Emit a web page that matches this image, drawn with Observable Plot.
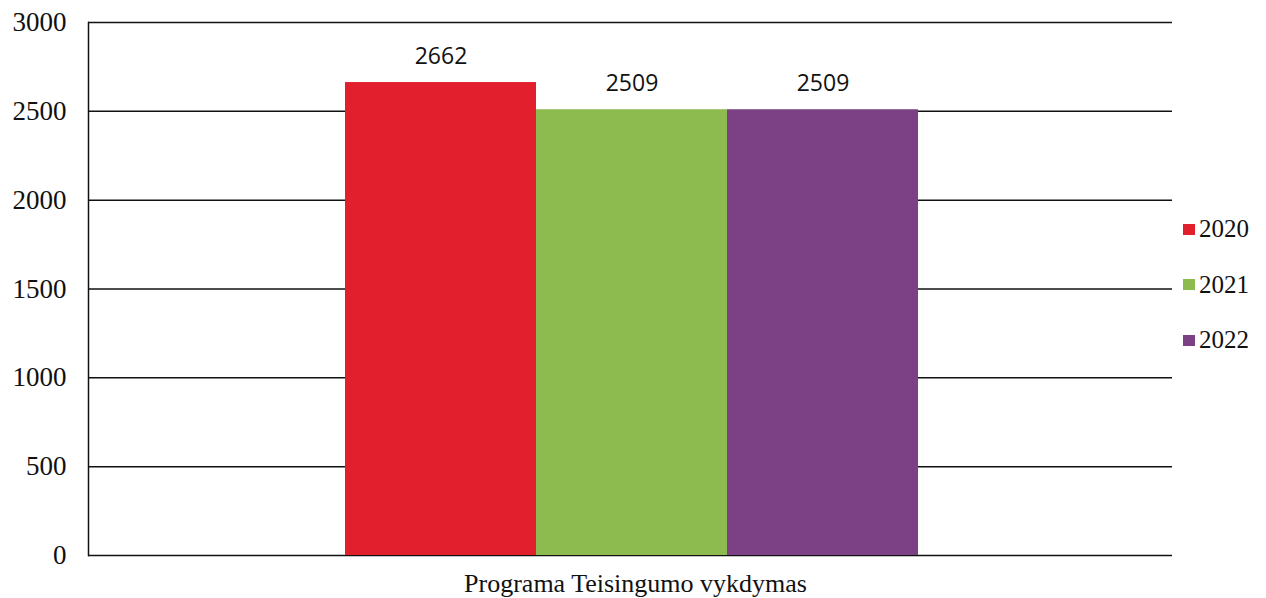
<!DOCTYPE html>
<html>
<head>
<meta charset="utf-8">
<script src="https://cdn.jsdelivr.net/npm/d3@7"></script>
<script src="https://cdn.jsdelivr.net/npm/@observablehq/plot@0.6"></script>
<style>
  html, body { margin: 0; padding: 0; background: #fff; }
  #wrap { position: relative; width: 1266px; height: 598px; }
  #legend { position: absolute; left: 1183px; top: 213px; color: #111; }
  #legend .item { display: flex; align-items: center; height: 32px; margin-bottom: 23.5px; }
  #legend .sw { width: 12px; height: 11px; margin-right: 4px; }
  #legend .lab { font-family: "Liberation Serif", "DejaVu Serif", serif; font-size: 25px; }
</style>
</head>
<body>
<div id="wrap"></div>
<script>
const category = "Programa Teisingumo vykdymas";
const years = ["2020", "2021", "2022"];
const values = [2662, 2509, 2509];
const colors = ["#e21f2c", "#8dbb50", "#7c4185"];
const yTicks = [0, 500, 1000, 1500, 2000, 2500, 3000];

const data = years.map((y, i) => ({category, year: y, value: values[i]}));

const chart = Plot.plot({
  width: 1266,
  height: 598,
  marginLeft: 88,
  marginRight: 94,
  marginTop: 22,
  marginBottom: 43,
  style: {fontFamily: "'Liberation Serif', 'Times New Roman', serif", background: "#fff", color: "#111"},
  fx: {domain: [category], padding: 0, label: null, axis: null},
  x: {domain: years, paddingInner: 0, paddingOuter: 1.33, axis: null},
  y: {domain: [0, 3000], axis: null},
  color: {domain: years, range: colors},
  marks: [
    Plot.ruleY(yTicks, {stroke: "#111", strokeWidth: 1.5}),
    Plot.frame({anchor: "left", stroke: "#111", strokeWidth: 1.5}),
    Plot.barY(data, {fx: "category", x: "year", y: "value", fill: "year", dx: 1}),
    Plot.text(data, {fx: "category", x: "year", y: "value", text: d => String(d.value), dy: -26, dx: 1, fontFamily: "'Open Sans', sans-serif", fontSize: 23, fill: "#111"}),
    Plot.axisY({ticks: yTicks, tickSize: 0, tickPadding: 22, fontSize: 27, tickFormat: d => String(d), label: null}),
    Plot.axisFx({anchor: "bottom", tickSize: 0, tickPadding: 18, fontSize: 26, label: null, dx: 5})
  ]
});

const wrap = document.getElementById("wrap");
wrap.appendChild(chart);

const legend = document.createElement("div");
legend.id = "legend";
years.forEach((y, i) => {
  const item = document.createElement("div");
  item.className = "item";
  const sw = document.createElement("span");
  sw.className = "sw";
  sw.style.background = colors[i];
  const t = document.createElement("span");
  t.className = "lab";
  t.textContent = y;
  item.appendChild(sw);
  item.appendChild(t);
  legend.appendChild(item);
});
wrap.appendChild(legend);
</script>
</body>
</html>
